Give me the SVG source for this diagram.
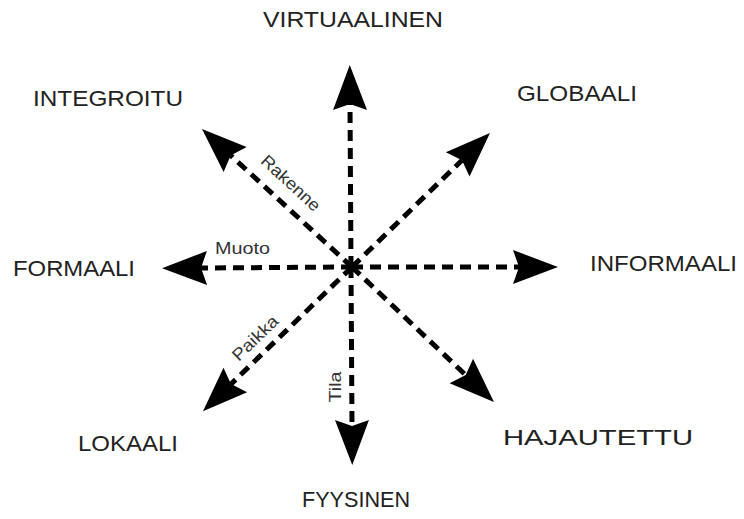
<svg xmlns="http://www.w3.org/2000/svg" width="744" height="519" viewBox="0 0 744 519">
  <style>
    .big { font-family: "Liberation Sans", Arial, sans-serif; font-size: 22px; fill: #222222; }
    .small { font-family: "Liberation Sans", Arial, sans-serif; font-size: 17px; fill: #333333; }
    .conn { stroke: #000; stroke-width: 5; stroke-dasharray: 11 7; fill: none; marker-end: url(#head); }
  </style>
  <defs>
    <marker id="head" markerUnits="userSpaceOnUse" orient="auto" refX="0" refY="0" markerWidth="60" markerHeight="40" overflow="visible" viewBox="-10 -20 60 40">
      <path d="M39,0 L-6,-17 L0,0 L-6,17 Z" fill="#000"/>
    </marker>
  </defs>
  <rect width="744" height="519" fill="#fff"/>
  <g id="connectors">
    <line class="conn" x1="351" y1="267" x2="350" y2="104"/>
    <line class="conn" x1="351" y1="267" x2="352" y2="426"/>
    <line class="conn" x1="352" y1="267" x2="519" y2="267"/>
    <line class="conn" x1="352" y1="267" x2="201" y2="268"/>
    <line class="conn" x1="352" y1="267" x2="230.7" y2="155.4"/>
    <line class="conn" x1="352" y1="267" x2="462" y2="160.2"/>
    <line class="conn" x1="352" y1="267" x2="231" y2="384.1"/>
    <line class="conn" x1="352" y1="267" x2="465.7" y2="375.1"/>
    <circle cx="352" cy="267" r="5" fill="#000"/>
  </g>
  <g id="edge-labels">
    <text class="small" transform="translate(291,183) rotate(42.6)" x="0" y="6" text-anchor="middle" textLength="74" lengthAdjust="spacingAndGlyphs">Rakenne</text>
    <text class="small" x="215" y="254" textLength="55" lengthAdjust="spacingAndGlyphs">Muoto</text>
    <text class="small" transform="translate(255,338) rotate(-44)" x="0" y="6" text-anchor="middle" textLength="57" lengthAdjust="spacingAndGlyphs">Paikka</text>
    <text class="small" transform="translate(335,387) rotate(-90)" x="0" y="6" text-anchor="middle" textLength="31" lengthAdjust="spacingAndGlyphs">Tila</text>
  </g>
  <g id="node-virtuaalinen"><text class="big" x="263" y="27" textLength="180" lengthAdjust="spacingAndGlyphs">VIRTUAALINEN</text></g>
  <g id="node-integroitu"><text class="big" x="33" y="106" textLength="150" lengthAdjust="spacingAndGlyphs">INTEGROITU</text></g>
  <g id="node-globaali"><text class="big" x="517" y="101" textLength="120" lengthAdjust="spacingAndGlyphs">GLOBAALI</text></g>
  <g id="node-formaali"><text class="big" x="13" y="276" textLength="122" lengthAdjust="spacingAndGlyphs">FORMAALI</text></g>
  <g id="node-informaali"><text class="big" x="590" y="271" textLength="147" lengthAdjust="spacingAndGlyphs">INFORMAALI</text></g>
  <g id="node-lokaali"><text class="big" x="78" y="451" textLength="100" lengthAdjust="spacingAndGlyphs">LOKAALI</text></g>
  <g id="node-hajautettu"><text class="big" x="503" y="445" textLength="190" lengthAdjust="spacingAndGlyphs">HAJAUTETTU</text></g>
  <g id="node-fyysinen"><text class="big" x="302" y="507" textLength="108" lengthAdjust="spacingAndGlyphs">FYYSINEN</text></g>
</svg>
